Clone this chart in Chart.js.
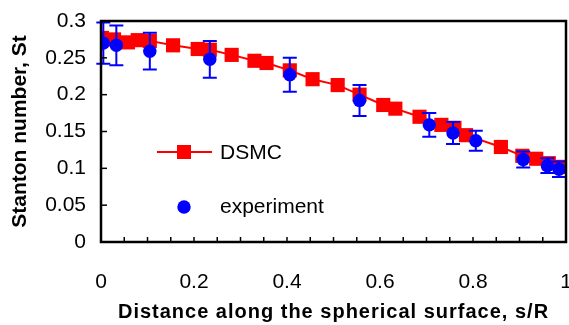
<!DOCTYPE html>
<html>
<head>
<meta charset="utf-8">
<script src="https://cdn.jsdelivr.net/npm/chart.js@4/dist/chart.umd.min.js"></script>
<style>
  html, body { margin: 0; padding: 0; background: #fff; overflow: hidden; }
</style>
</head>
<body>
<canvas id="myChart" width="580" height="325"></canvas>
<script>
// DSMC curve
const dsmcX = [0.002, 0.028, 0.058, 0.079, 0.105, 0.155, 0.208, 0.234, 0.281, 0.33, 0.356, 0.406, 0.455,
  0.509, 0.556, 0.607, 0.633, 0.685, 0.732, 0.76, 0.785, 0.86, 0.906, 0.936, 0.963, 0.989];
const dsmcSt = [0.277, 0.275, 0.271, 0.274, 0.273, 0.267, 0.262, 0.261, 0.254, 0.246, 0.243, 0.233, 0.221,
  0.213, 0.2, 0.186, 0.181, 0.170, 0.159, 0.155, 0.145, 0.129, 0.117, 0.113, 0.107, 0.102];

// experiment points and error half-widths
const expX = [0.005, 0.033, 0.105, 0.234, 0.406, 0.556, 0.706, 0.757, 0.806, 0.908, 0.96, 0.985];
const expSt = [0.270, 0.267, 0.259, 0.248, 0.227, 0.192, 0.159, 0.148, 0.1375, 0.112, 0.1036, 0.0987];
const expErr = [0.028, 0.027, 0.025, 0.025, 0.023, 0.021, 0.016, 0.015, 0.0135, 0.011, 0.010, 0.0105];

const xTickLabels = [0, 0.2, 0.4, 0.6, 0.8, 1];
const xTitle = 'Distance along the spherical surface, s/R';

const FONT = "'Liberation Sans', Arial, sans-serif";

// error bars for the experiment set
const errorBars = {
  id: 'errorBars',
  afterDatasetsDraw(chart) {
    const ctx = chart.ctx;
    const xs = chart.scales.x, ys = chart.scales.y;
    ctx.save();
    ctx.strokeStyle = '#0000ff';
    ctx.lineWidth = 2;
    expX.forEach((x, i) => {
      const px = xs.getPixelForValue(x);
      const top = ys.getPixelForValue(expSt[i] + expErr[i]);
      const bot = ys.getPixelForValue(expSt[i] - expErr[i]);
      ctx.beginPath();
      ctx.moveTo(px, top); ctx.lineTo(px, bot);
      ctx.moveTo(px - 7, top); ctx.lineTo(px + 7, top);
      ctx.moveTo(px - 7, bot); ctx.lineTo(px + 7, bot);
      ctx.stroke();
    });
    ctx.restore();
  }
};

// frame, inward tick marks and the spaced-out x title
const frame = {
  id: 'frame',
  afterDraw(chart) {
    const ctx = chart.ctx;
    const a = chart.chartArea;
    const xs = chart.scales.x, ys = chart.scales.y;
    ctx.save();
    ctx.strokeStyle = '#000';
    ctx.lineWidth = 1.5;
    xs.ticks.forEach(t => {
      const px = xs.getPixelForValue(t.value);
      ctx.beginPath(); ctx.moveTo(px, a.bottom); ctx.lineTo(px, a.bottom - 5); ctx.stroke();
    });
    ys.ticks.forEach(t => {
      const py = ys.getPixelForValue(t.value);
      ctx.beginPath(); ctx.moveTo(a.left, py); ctx.lineTo(a.left + 6, py); ctx.stroke();
    });
    ctx.lineWidth = 2.5;
    ctx.strokeRect(a.left, a.top, a.right - a.left, a.bottom - a.top);

    ctx.fillStyle = '#000';
    ctx.font = 'bold 20px ' + FONT;
    ctx.letterSpacing = '1px';
    ctx.textAlign = 'center';
    ctx.textBaseline = 'middle';
    ctx.fillText(xTitle, (a.left + a.right) / 2, a.bottom + 70);
    ctx.restore();
  }
};

// legend inside the plot
const innerLegend = {
  id: 'innerLegend',
  afterDraw(chart) {
    const ctx = chart.ctx;
    const a = chart.chartArea;
    const x0 = a.left + 56, y0 = a.top + 131;
    ctx.save();
    ctx.strokeStyle = '#ff0000';
    ctx.lineWidth = 2;
    ctx.beginPath(); ctx.moveTo(x0, y0); ctx.lineTo(x0 + 55, y0); ctx.stroke();
    ctx.fillStyle = '#ff0000';
    ctx.fillRect(x0 + 27 - 7, y0 - 7, 14, 14);
    ctx.fillStyle = '#0000ff';
    ctx.beginPath(); ctx.arc(x0 + 27, y0 + 55, 6.7, 0, Math.PI * 2); ctx.fill();
    ctx.fillStyle = '#000';
    ctx.font = '21px ' + FONT;
    ctx.textBaseline = 'middle';
    ctx.fillText(chart.data.datasets[0].label, x0 + 63, y0 + 1);
    ctx.fillText(chart.data.datasets[1].label, x0 + 63, y0 + 55);
    ctx.restore();
  }
};

new Chart('myChart', {
  type: 'scatter',
  data: {
    datasets: [{
      label: 'DSMC',
      data: dsmcX.map((x, i) => ({ x: x, y: dsmcSt[i] })),
      showLine: true,
      borderColor: '#ff0000',
      borderWidth: 2,
      backgroundColor: '#ff0000',
      pointStyle: 'rect',
      pointRadius: 10,
      pointBorderWidth: 0,
      order: 1
    }, {
      label: 'experiment',
      data: expX.map((x, i) => ({ x: x, y: expSt[i] })),
      backgroundColor: '#0000ff',
      borderColor: '#0000ff',
      pointStyle: 'circle',
      pointRadius: 6.7,
      pointBorderWidth: 0,
      order: 0
    }]
  },
  options: {
    responsive: false,
    animation: false,
    layout: { padding: { left: 0, top: 21, right: 14, bottom: 0 } },
    plugins: { legend: { display: false }, tooltip: { enabled: false } },
    scales: {
      x: {
        type: 'linear',
        min: 0, max: 1,
        afterFit(s) { s.height = 83; s.paddingLeft = 0; s.paddingRight = 0; },
        grid: { display: true, drawOnChartArea: false, drawTicks: false },
        border: { display: false },
        ticks: {
          stepSize: 0.05,
          autoSkip: false,
          maxRotation: 0,
          padding: 28,
          color: '#000',
          font: { family: FONT, size: 21 },
          callback(v) {
            const r = Math.round(v * 100) / 100;
            return xTickLabels.includes(r) ? String(r) : '';
          }
        },
        title: { display: false }
      },
      y: {
        min: 0, max: 0.3,
        afterFit(s) { s.width = 101; s.paddingTop = 0; s.paddingBottom = 0; },
        grid: { display: true, drawOnChartArea: false, drawTicks: false },
        border: { display: false },
        ticks: {
          stepSize: 0.05,
          padding: 15,
          color: '#000',
          font: { family: FONT, size: 21 },
          callback(v) { return String(Math.round(v * 100) / 100); }
        },
        title: {
          display: true,
          text: 'Stanton number, St',
          color: '#000',
          font: { family: FONT, size: 21, weight: 'bold' },
          padding: { top: 8, bottom: 8 }
        }
      }
    }
  },
  plugins: [errorBars, frame, innerLegend]
});
</script>
</body>
</html>
